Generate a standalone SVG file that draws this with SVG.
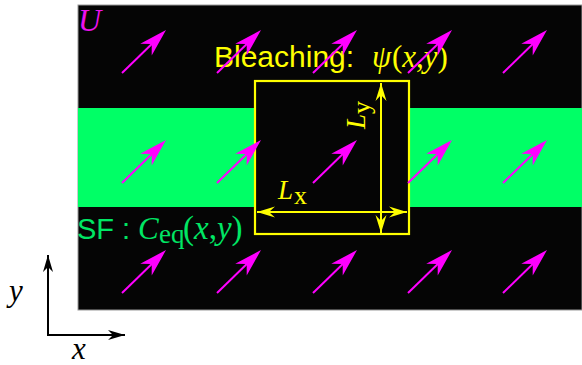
<svg xmlns="http://www.w3.org/2000/svg" width="582" height="365" viewBox="0 0 582 365">
  <defs>
    <style>
      .serif { font-family: "Liberation Serif", "Times New Roman", serif; }
      .sans { font-family: "Liberation Sans", Arial, sans-serif; }
      .it { font-style: italic; }
      .yel { fill: #FFFF00; }
      .grn { fill: #00E664; }
      .ylin { stroke: #FFFF00; stroke-width: 2; fill: none; }
      .klin { stroke: #000; stroke-width: 2; fill: none; }
    </style>
    <g id="flow">
      <line x1="0" y1="0" x2="42" y2="0" stroke="#FF00FF" stroke-width="2"/>
      <path d="M61.5,0 L33.5,-8.2 L41.5,0 L33.5,8.2 Z" fill="#FF00FF"/>
    </g>
    <marker id="yh" markerUnits="userSpaceOnUse" viewBox="-19 -7 20 14" refX="0" refY="0" markerWidth="20" markerHeight="14" orient="auto-start-reverse">
      <path d="M0,0 L-18,-5.5 L-12,0 L-18,5.5 Z" fill="#FFFF00"/>
    </marker>
    <marker id="kh" markerUnits="userSpaceOnUse" viewBox="-19 -7 20 14" refX="0" refY="0" markerWidth="20" markerHeight="14" orient="auto">
      <path d="M0,0 L-17,-5 L-12,0 L-17,5 Z" fill="#000"/>
    </marker>
  </defs>

  <g id="field">
    <rect x="78" y="5" width="504" height="305" fill="#050505" stroke="#999" stroke-width="1"/>
    <rect x="78" y="108" width="504" height="99" fill="#00FF66"/>
  </g>

  <g id="bleach-box">
    <rect x="255" y="81" width="154" height="153" fill="#050505" stroke="#FFFF00" stroke-width="2.2"/>
  </g>

  <g id="labels">
    <text class="serif it" x="78" y="31" font-size="32" fill="#EE11EE">U</text>
    <text class="sans yel" x="214" y="67" font-size="30">Bleaching:</text>
    <text class="serif yel" y="67" font-size="31"><tspan class="it" x="372">ψ</tspan><tspan x="392">(</tspan><tspan class="it">x</tspan>,<tspan class="it">y</tspan>)</text>
    <text class="sans grn" x="77" y="239" font-size="29">SF :</text>
    <text class="serif grn" y="239" font-size="31"><tspan class="it" x="138">C</tspan><tspan x="159" dy="4" font-size="27">eq</tspan><tspan x="183" dy="-4" font-size="33">(<tspan class="it">x</tspan>,<tspan class="it">y</tspan>)</tspan></text>
    <text class="serif yel" y="199" font-size="27"><tspan class="it" x="278">L</tspan><tspan x="294" dy="5" font-size="26">x</tspan></text>
    <text class="serif yel" transform="translate(365,129) rotate(-90)" font-size="27"><tspan class="it" x="0">L</tspan><tspan dy="5" font-size="26">y</tspan></text>
    <text class="serif it" x="9" y="301" font-size="31" fill="#000">y</text>
    <text class="serif it" x="72" y="359" font-size="31" fill="#000">x</text>
  </g>

  <g id="connectors">
    <line class="ylin" x1="381" y1="233" x2="381" y2="83" marker-start="url(#yh)" marker-end="url(#yh)"/>
    <line class="ylin" x1="257" y1="212" x2="407" y2="212" marker-start="url(#yh)" marker-end="url(#yh)"/>
    <line class="klin" x1="48" y1="336" x2="48" y2="255" marker-end="url(#kh)"/>
    <line class="klin" x1="47" y1="335" x2="125" y2="335" marker-end="url(#kh)"/>
  </g>

  <g id="flow-arrows">
    <use href="#flow" transform="translate(122,73) rotate(-44.3)"/>
    <use href="#flow" transform="translate(217,73) rotate(-44.3)"/>
    <use href="#flow" transform="translate(313,73) rotate(-44.3)"/>
    <use href="#flow" transform="translate(408,73) rotate(-44.3)"/>
    <use href="#flow" transform="translate(503,73) rotate(-44.3)"/>
    <use href="#flow" transform="translate(122,183) rotate(-44.3)"/>
    <use href="#flow" transform="translate(217,183) rotate(-44.3)"/>
    <use href="#flow" transform="translate(313,183) rotate(-44.3)"/>
    <use href="#flow" transform="translate(408,183) rotate(-44.3)"/>
    <use href="#flow" transform="translate(503,183) rotate(-44.3)"/>
    <use href="#flow" transform="translate(122,293) rotate(-44.3)"/>
    <use href="#flow" transform="translate(217,293) rotate(-44.3)"/>
    <use href="#flow" transform="translate(313,293) rotate(-44.3)"/>
    <use href="#flow" transform="translate(408,293) rotate(-44.3)"/>
    <use href="#flow" transform="translate(503,293) rotate(-44.3)"/>
  </g>
</svg>
